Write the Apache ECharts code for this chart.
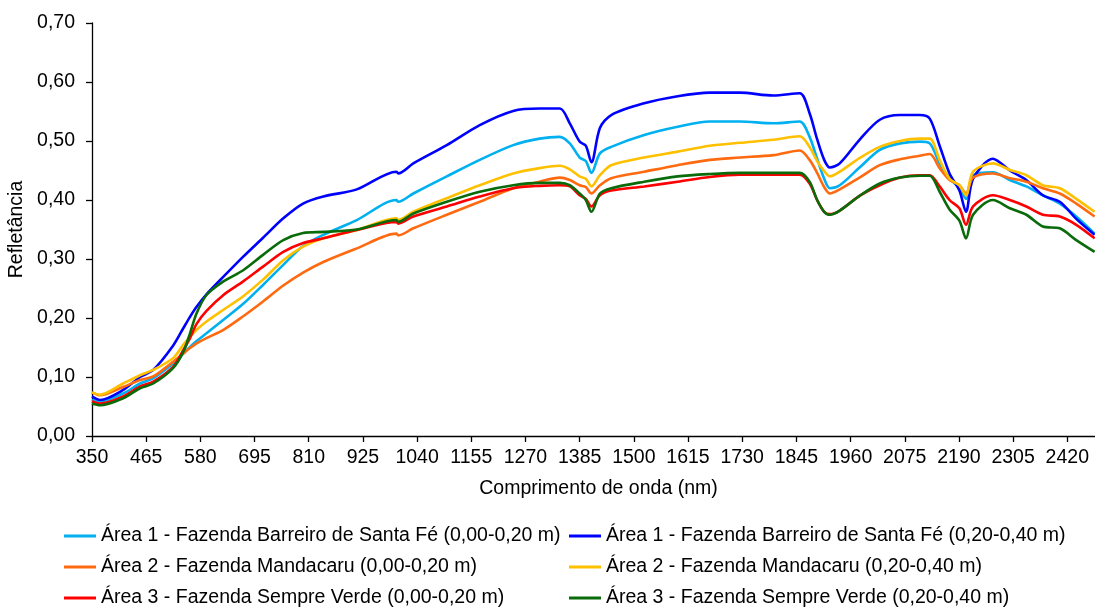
<!DOCTYPE html>
<html>
<head>
<meta charset="utf-8">
<title>Refletância espectral</title>
<script src="https://cdn.jsdelivr.net/npm/echarts@6/dist/echarts.min.js"></script>
<style>
  html, body { margin: 0; padding: 0; background: #ffffff; }
  #chart { width: 1095px; height: 608px; }
</style>
</head>
<body>
<div id="chart"></div>
<script>
// Wavelength axis starts at 350 nm; ticks every 115 nm
const WL_START = 350;
const WL_END = 2500;
const WL_STEP = 115;

// Sampled wavelengths (nm)
const wavelengths = [350, 367, 416, 452, 480, 522, 544, 558, 572, 593,
  629, 671, 713, 756, 798, 841, 912, 996, 1000, 1032,
  1103, 1173, 1244, 1300, 1343, 1364, 1385, 1398, 1410, 1428,
  1452, 1522, 1593, 1661, 1725, 1796, 1852, 1873, 1889, 1904,
  1916, 1937, 1979, 2022, 2065, 2107, 2128, 2149, 2170, 2191,
  2205, 2220, 2262, 2298, 2333, 2368, 2404, 2439, 2478];

// Área 1 - Barreiro de Santa Fé, 0,00-0,20 m
const area1Top = [0.061, 0.059, 0.072, 0.089, 0.098, 0.123, 0.140, 0.151, 0.161, 0.174,
  0.197, 0.224, 0.256, 0.290, 0.322, 0.341, 0.366, 0.400, 0.397, 0.411,
  0.440, 0.468, 0.493, 0.504, 0.507, 0.496, 0.472, 0.466, 0.446, 0.479,
  0.490, 0.510, 0.524, 0.533, 0.533, 0.530, 0.533, 0.507, 0.470, 0.436,
  0.420, 0.425, 0.455, 0.485, 0.496, 0.499, 0.496, 0.462, 0.437, 0.420,
  0.402, 0.442, 0.447, 0.434, 0.423, 0.408, 0.394, 0.372, 0.343];

// Área 1 - Barreiro de Santa Fé, 0,20-0,40 m
const area1Sub = [0.067, 0.061, 0.078, 0.100, 0.112, 0.153, 0.183, 0.202, 0.219, 0.240,
  0.270, 0.304, 0.336, 0.369, 0.394, 0.406, 0.418, 0.448, 0.445, 0.462,
  0.493, 0.527, 0.551, 0.555, 0.555, 0.530, 0.499, 0.492, 0.464, 0.522,
  0.544, 0.564, 0.576, 0.582, 0.582, 0.577, 0.581, 0.547, 0.503, 0.468,
  0.455, 0.462, 0.502, 0.536, 0.544, 0.544, 0.538, 0.492, 0.445, 0.416,
  0.380, 0.436, 0.470, 0.450, 0.434, 0.408, 0.397, 0.368, 0.341];

// Área 2 - Mandacaru, 0,00-0,20 m
const area2Top = [0.074, 0.069, 0.083, 0.095, 0.101, 0.126, 0.140, 0.149, 0.157, 0.166,
  0.180, 0.203, 0.228, 0.255, 0.277, 0.295, 0.318, 0.343, 0.340, 0.352,
  0.375, 0.397, 0.420, 0.431, 0.438, 0.434, 0.425, 0.422, 0.411, 0.425,
  0.437, 0.448, 0.459, 0.468, 0.472, 0.476, 0.484, 0.468, 0.446, 0.422,
  0.411, 0.418, 0.438, 0.459, 0.469, 0.475, 0.478, 0.454, 0.434, 0.425,
  0.411, 0.438, 0.445, 0.437, 0.431, 0.420, 0.411, 0.394, 0.372];

// Área 2 - Mandacaru, 0,20-0,40 m
const area2Sub = [0.074, 0.070, 0.089, 0.103, 0.112, 0.132, 0.155, 0.168, 0.180, 0.194,
  0.214, 0.237, 0.265, 0.298, 0.321, 0.335, 0.349, 0.369, 0.366, 0.380,
  0.403, 0.425, 0.445, 0.454, 0.458, 0.452, 0.440, 0.436, 0.423, 0.442,
  0.459, 0.472, 0.482, 0.492, 0.497, 0.502, 0.508, 0.490, 0.466, 0.449,
  0.440, 0.448, 0.471, 0.490, 0.500, 0.504, 0.504, 0.468, 0.436, 0.425,
  0.408, 0.448, 0.462, 0.451, 0.442, 0.425, 0.420, 0.402, 0.380];

// Área 3 - Sempre Verde, 0,00-0,20 m
const area3Top = [0.059, 0.055, 0.067, 0.084, 0.092, 0.117, 0.146, 0.166, 0.190, 0.212,
  0.239, 0.262, 0.287, 0.312, 0.327, 0.335, 0.349, 0.363, 0.360, 0.372,
  0.389, 0.406, 0.420, 0.424, 0.425, 0.423, 0.408, 0.402, 0.389, 0.408,
  0.416, 0.423, 0.431, 0.439, 0.443, 0.443, 0.443, 0.428, 0.400, 0.380,
  0.376, 0.382, 0.407, 0.425, 0.438, 0.442, 0.442, 0.423, 0.400, 0.386,
  0.358, 0.389, 0.408, 0.400, 0.389, 0.375, 0.372, 0.358, 0.335];

// Área 3 - Sempre Verde, 0,20-0,40 m
const area3Sub = [0.055, 0.052, 0.064, 0.081, 0.089, 0.115, 0.143, 0.174, 0.208, 0.239,
  0.262, 0.281, 0.307, 0.332, 0.344, 0.346, 0.350, 0.366, 0.363, 0.377,
  0.397, 0.414, 0.425, 0.429, 0.429, 0.425, 0.411, 0.400, 0.380, 0.411,
  0.420, 0.431, 0.440, 0.444, 0.446, 0.446, 0.446, 0.431, 0.400, 0.380,
  0.375, 0.382, 0.407, 0.428, 0.438, 0.441, 0.441, 0.414, 0.384, 0.365,
  0.335, 0.375, 0.400, 0.386, 0.375, 0.355, 0.352, 0.332, 0.312];

const seriesNames = [
  'Área 1 - Fazenda Barreiro de Santa Fé (0,00-0,20 m)',
  'Área 1 - Fazenda Barreiro de Santa Fé (0,20-0,40 m)',
  'Área 2 - Fazenda Mandacaru (0,00-0,20 m)',
  'Área 2 - Fazenda Mandacaru (0,20-0,40 m)',
  'Área 3 - Fazenda Sempre Verde (0,00-0,20 m)',
  'Área 3 - Fazenda Sempre Verde (0,20-0,40 m)'
];
const seriesValues = [area1Top, area1Sub, area2Top, area2Sub, area3Top, area3Sub];
const seriesColors = ['#00B0F0', '#0000FF', '#FF6A10', '#FFC000', '#FF0000', '#0A6B0A'];

const FONT = "'Liberation Sans', Arial, sans-serif";
const FS = 19.5;

// x values are offsets from WL_START so the 115 nm ticks line up with 350
const series = seriesNames.map((name, i) => ({
  name: name,
  type: 'line',
  showSymbol: false,
  symbol: 'none',
  smooth: 0.3,
  lineStyle: { color: seriesColors[i], width: 2.6 },
  itemStyle: { color: seriesColors[i] },
  data: wavelengths.map((w, k) => [w - WL_START, seriesValues[i][k]])
}));

// Legend laid out as a 2-column table: one single-entry legend per cell
const legendRowTops = [526, 557, 588];
const legendColLefts = [64, 569];
const legends = seriesNames.map((name, i) => ({
  left: legendColLefts[i % 2],
  top: legendRowTops[Math.floor(i / 2)],
  padding: 0,
  itemWidth: 32,
  itemHeight: 3,
  icon: 'rect',
  textStyle: { fontFamily: FONT, fontSize: FS, color: '#000' },
  data: [name]
}));

const chart = echarts.init(document.getElementById('chart'), null, { renderer: 'canvas' });
chart.setOption({
  animation: false,
  backgroundColor: '#ffffff',
  grid: { left: 92, top: 23, width: 1013, height: 413, outerBoundsMode: 'none', containLabel: false },
  legend: legends,
  xAxis: {
    type: 'value',
    min: 0,
    max: WL_END - WL_START,
    interval: WL_STEP,
    name: 'Comprimento de onda (nm)',
    nameLocation: 'middle',
    nameGap: 43,
    nameTextStyle: { fontFamily: FONT, fontSize: FS, color: '#000' },
    axisLine: { lineStyle: { color: '#000', width: 1.3 } },
    axisTick: { length: 6, lineStyle: { color: '#000', width: 1.3 } },
    axisLabel: {
      margin: 12,
      showMaxLabel: false,
      fontFamily: FONT, fontSize: FS, color: '#000',
      formatter: v => String(v + WL_START)
    },
    splitLine: { show: false }
  },
  yAxis: {
    type: 'value',
    min: 0,
    max: 0.7,
    interval: 0.1,
    name: 'Refletância',
    nameLocation: 'middle',
    nameGap: 62,
    nameTextStyle: { fontFamily: FONT, fontSize: FS, color: '#000' },
    axisLine: { show: true, lineStyle: { color: '#000', width: 1.3 } },
    axisTick: { show: true, length: 6, lineStyle: { color: '#000', width: 1.3 } },
    axisLabel: {
      margin: 17,
      fontFamily: FONT, fontSize: FS, color: '#000',
      formatter: v => v.toFixed(2).replace('.', ',')
    },
    splitLine: { show: false }
  },
  series: series
});
</script>
</body>
</html>
